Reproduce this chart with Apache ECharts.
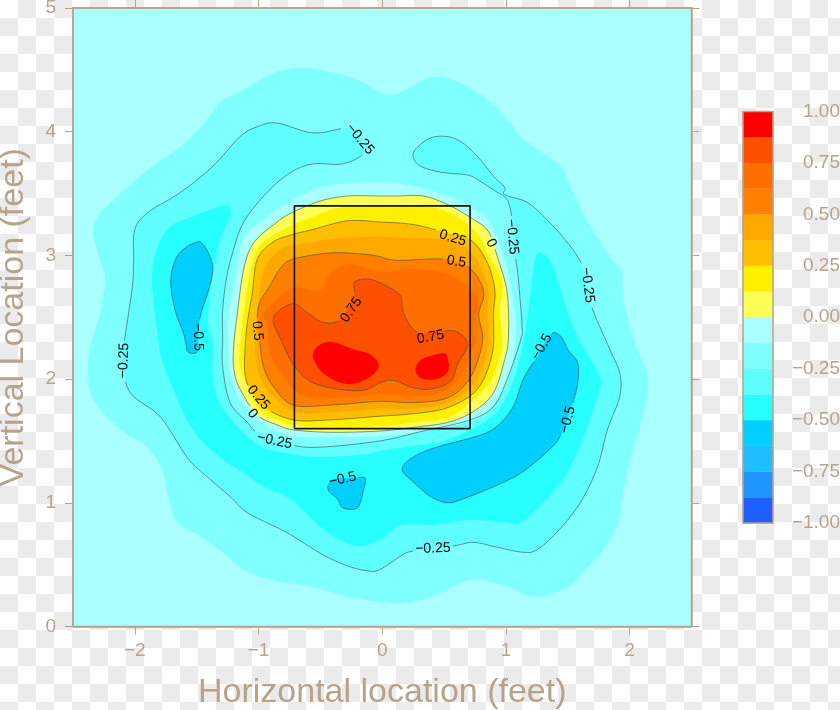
<!DOCTYPE html>
<html><head><meta charset="utf-8">
<script src="https://cdn.jsdelivr.net/npm/echarts@6/dist/echarts.min.js"></script>
<style>
html,body{margin:0;padding:0;width:840px;height:710px;overflow:hidden;background-color:#fff;
background-image:conic-gradient(#ebebeb 25%,#fff 0 50%,#ebebeb 0 75%,#fff 0);background-size:36px 36px;}
#c{width:840px;height:710px;}
</style></head><body><div id="c"></div>
<script>
const xTicks=[-2,-1,0,1,2];
const yTicks=[0,1,2,3,4,5];
const xTitle='Horizontal location (feet)';
const yTitle='Vertical Location (feet)';
const colorBreaks=[-1,-0.875,-0.75,-0.625,-0.5,-0.375,-0.25,-0.125,0,0.125,0.25,0.375,0.5,0.625,0.75,0.875,1];
const colorSteps=['#1f5fff','#1f96ff','#1fbfff','#00cfff','#27ffff','#5fffff','#7fffff','#aaffff','#ffff55','#fff000','#ffbf00','#ffa800','#ff8000','#ff6f00','#ff5000','#ff0000'];
const zoneX=[-0.71,0.71,0.71,-0.71,-0.71];
const zoneY=[1.6,1.6,3.4,3.4,1.6];

const ringM125=[[-.74,4.51],[-.93,4.45],[-1.15,4.32],[-1.31,4.24],[-1.43,4.08],[-1.63,3.88],[-1.90,3.69],[-2.17,3.45],[-2.30,3.31],[-2.34,3.19],[-2.30,3.02],[-2.24,2.81],[-2.28,2.54],[-2.36,2.26],[-2.38,2.08],[-2.36,1.89],[-2.26,1.73],[-2.09,1.57],[-1.90,1.45],[-1.78,1.27],[-1.73,1.05],[-1.66,.85],[-1.47,.73],[-1.29,.60],[-1.09,.44],[-.82,.36],[-.56,.32],[-.28,.24],[-.02,.20],[.20,.19],[.47,.27],[.65,.36],[.79,.38],[1.01,.32],[1.25,.24],[1.50,.32],[1.62,.44],[1.79,.62],[1.92,.86],[1.94,1.03],[1.99,1.29],[2.06,1.54],[2.14,1.86],[2.14,2.05],[2.06,2.24],[1.95,2.64],[1.94,2.86],[1.84,2.99],[1.66,3.27],[1.52,3.56],[1.44,3.72],[1.25,3.86],[1.12,3.96],[1.01,4.10],[.82,4.28],[.57,4.42],[.39,4.44],[.23,4.36],[.09,4.30],[-.02,4.32],[-.20,4.42],[-.50,4.50]];
const ringM25=[[-.15,3.83],[-.32,3.74],[-.56,3.74],[-.74,3.67],[-.93,3.51],[-1.12,3.27],[-1.21,3.02],[-1.26,2.81],[-1.29,2.56],[-1.29,2.32],[-1.29,2.10],[-1.23,1.81],[-1.09,1.65],[-1.01,1.57],[-.74,1.47],[-.50,1.45],[-.02,1.50],[.33,1.58],[.71,1.67],[.90,1.78],[1.01,2.00],[1.12,2.32],[1.13,2.43],[1.10,2.81],[1.08,2.97],[1.05,3.29],[1.02,3.43],[.98,3.48],[.93,3.51],[.79,3.60],[.69,3.65],[.49,3.67],[.31,3.72],[.25,3.80],[.28,3.87],[.39,3.95],[.53,3.96],[.65,3.91],[.77,3.80],[.90,3.64],[.99,3.55],[.99,3.49],[1.17,3.43],[1.33,3.29],[1.50,3.10],[1.62,2.91],[1.68,2.62],[1.84,2.24],[1.92,2.05],[1.92,1.86],[1.82,1.59],[1.74,1.29],[1.60,1.00],[1.41,.76],[1.25,.62],[1.14,.60],[.93,.64],[.74,.68],[.57,.65],[.25,.61],[.15,.57],[-.02,.46],[-.12,.45],[-.28,.49],[-.48,.58],[-.72,.73],[-.85,.80],[-1.09,.92],[-1.23,1.05],[-1.45,1.24],[-1.58,1.37],[-1.79,1.69],[-2.01,1.86],[-2.08,2.00],[-2.09,2.24],[-2.08,2.34],[-2.02,2.75],[-2.01,2.97],[-2.00,3.21],[-1.89,3.35],[-1.63,3.51],[-1.37,3.72],[-1.15,3.96],[-1.01,4.04],[-.85,4.07],[-.56,3.99],[-.28,4.03],[-.20,3.98]];
const ringM375=[[-1.23,3.37],[-1.23,3.31],[-1.31,3.13],[-1.37,2.83],[-1.41,2.48],[-1.37,2.28],[-1.37,2.05],[-1.33,1.84],[-1.20,1.65],[-.99,1.46],[-.72,1.39],[-.48,1.37],[-.15,1.39],[-.02,1.42],[.25,1.46],[.53,1.51],[.85,1.67],[.98,1.81],[1.08,2.05],[1.14,2.30],[1.17,2.48],[1.20,2.70],[1.24,2.99],[1.30,3.01],[1.38,2.91],[1.50,2.54],[1.60,2.30],[1.76,2.02],[1.74,1.86],[1.60,1.46],[1.44,1.16],[1.14,.85],[1.01,.84],[.71,.86],[.39,.82],[.15,.82],[-.02,.70],[-.20,.65],[-.40,.73],[-.56,.86],[-.74,1.03],[-.96,1.13],[-1.12,1.24],[-1.29,1.35],[-1.45,1.49],[-1.58,1.67],[-1.71,1.97],[-1.79,2.18],[-1.81,2.32],[-1.86,2.75],[-1.84,2.99],[-1.74,3.21],[-1.55,3.31],[-1.33,3.39],[-1.25,3.40]];
const blobLeftM5=[[-1.49,3.11],[-1.58,3.07],[-1.67,2.97],[-1.71,2.78],[-1.67,2.54],[-1.61,2.38],[-1.59,2.30],[-1.57,2.22],[-1.51,2.21],[-1.48,2.24],[-1.49,2.32],[-1.47,2.51],[-1.41,2.70],[-1.37,2.89],[-1.41,3.03],[-1.46,3.10]];
const blobBottomM5=[[-.44,1.13],[-.40,1.19],[-.24,1.20],[-.14,1.20],[-.15,1.11],[-.20,.96],[-.32,.96],[-.36,1.03],[-.42,1.08]];
const blobRightM5=[[.16,1.27],[.25,1.37],[.44,1.45],[.77,1.54],[.93,1.62],[1.06,1.78],[1.14,2.00],[1.25,2.18],[1.36,2.36],[1.44,2.35],[1.50,2.24],[1.58,2.13],[1.58,1.97],[1.54,1.81],[1.44,1.54],[1.33,1.41],[1.12,1.24],[.90,1.13],[.65,1.03],[.53,1.00],[.39,1.05],[.25,1.17]];
const holeM125=[[-.02,3.59],[-.40,3.57],[-.58,3.52],[-.72,3.45],[-.93,3.31],[-1.12,3.15],[-1.17,2.91],[-1.24,2.56],[-1.25,2.28],[-1.24,2.08],[-1.17,1.86],[-1.01,1.67],[-.77,1.55],[-.42,1.53],[-.02,1.54],[.39,1.59],[.74,1.67],[.91,1.81],[1.02,2.02],[1.08,2.32],[1.05,2.72],[.98,2.99],[.87,3.27],[.71,3.39],[.53,3.48],[.25,3.56]];
const ring0=[[-.02,3.48],[-.28,3.48],[-.50,3.44],[-.72,3.35],[-.85,3.27],[-1.04,3.10],[-1.12,2.89],[-1.17,2.54],[-1.20,2.28],[-1.20,2.08],[-1.15,1.92],[-1.01,1.71],[-.85,1.63],[-.72,1.59],[-.42,1.57],[-.02,1.58],[.25,1.61],[.53,1.65],[.74,1.74],[.90,1.89],[.99,2.16],[1.02,2.34],[1.01,2.70],[.93,2.99],[.86,3.19],[.74,3.29],[.53,3.41],[.33,3.48],[.12,3.48]];
const ringP125=[[-.02,3.40],[-.34,3.39],[-.56,3.31],[-.72,3.25],[-.93,3.13],[-1.01,3.05],[-1.07,2.86],[-1.12,2.54],[-1.15,2.24],[-1.15,2.10],[-1.09,1.94],[-.99,1.75],[-.82,1.66],[-.72,1.63],[-.42,1.61],[-.02,1.62],[.25,1.65],[.53,1.69],[.71,1.81],[.87,1.97],[.95,2.18],[.97,2.32],[.95,2.54],[.97,2.78],[.87,2.99],[.74,3.21],[.53,3.35],[.33,3.40]];
const ringP25=[[-.02,3.27],[-.28,3.28],[-.56,3.21],[-.72,3.17],[-.88,3.11],[-1.01,2.97],[-1.05,2.70],[-1.09,2.46],[-1.11,2.24],[-1.11,2.05],[-1.07,1.92],[-.95,1.77],[-.72,1.67],[-.42,1.67],[-.02,1.70],[.25,1.72],[.53,1.77],[.77,1.92],[.89,2.21],[.90,2.54],[.91,2.72],[.85,2.94],[.71,3.13],[.49,3.19],[.25,3.25]];
const ringP375=[[-.02,3.15],[-.34,3.14],[-.66,3.09],[-.82,3.05],[-.95,2.90],[-1.00,2.64],[-1.03,2.30],[-1.00,2.05],[-.91,1.89],[-.72,1.74],[-.42,1.73],[-.02,1.76],[.25,1.76],[.53,1.81],[.74,1.96],[.85,2.24],[.85,2.56],[.86,2.66],[.82,2.85],[.69,3.05],[.47,3.13],[.23,3.14]];
const ringP5=[[-.02,2.99],[.12,2.96],[.49,2.97],[.69,2.91],[.79,2.79],[.82,2.67],[.78,2.52],[.81,2.30],[.71,2.01],[.53,1.85],[.25,1.81],[-.02,1.82],[-.42,1.79],[-.72,1.79],[-.88,1.94],[-.96,2.10],[-.99,2.30],[-1.01,2.48],[-.99,2.62],[-.91,2.75],[-.82,2.90],[-.72,2.97],[-.42,3.02],[-.15,3.01]];
const ringP625=[[-.02,2.87],[.25,2.89],[.49,2.86],[.65,2.78],[.77,2.64],[.73,2.38],[.75,2.30],[.63,2.02],[.47,1.89],[.25,1.86],[-.02,1.88],[-.15,1.86],[-.56,1.85],[-.72,1.92],[-.82,2.05],[-.91,2.21],[-.93,2.40],[-.96,2.52],[-.88,2.62],[-.72,2.74],[-.50,2.72],[-.44,2.83],[-.28,2.93]];
const ringP75=[[-.23,2.75],[-.22,2.79],[-.12,2.81],[-.02,2.78],[.06,2.74],[.15,2.67],[.17,2.54],[.28,2.38],[.49,2.39],[.61,2.38],[.69,2.28],[.61,2.12],[.55,1.98],[.39,1.92],[.25,1.93],[.09,1.99],[-.02,1.97],[-.15,1.91],[-.36,1.92],[-.58,1.98],[-.72,2.12],[-.82,2.32],[-.88,2.46],[-.85,2.54],[-.72,2.61],[-.61,2.54],[-.48,2.46],[-.34,2.48],[-.23,2.67]];
const blobA875=[[-.56,2.21],[-.50,2.28],[-.40,2.30],[-.23,2.24],[-.10,2.20],[-.03,2.12],[-.07,2.04],[-.20,1.97],[-.34,1.97],[-.48,2.05],[-.54,2.13]];
const blobB875=[[.27,2.09],[.32,2.16],[.49,2.21],[.53,2.16],[.53,2.06],[.44,2.00],[.33,2.00],[.28,2.04]];

const fillRings=[ringM125,ringM25,ringM375,blobLeftM5,blobBottomM5,blobRightM5,holeM125,ring0,ringP125,ringP25,ringP375,ringP5,ringP625,ringP75,blobA875,blobB875];
const fillColors=['#7fffff','#5fffff','#27ffff','#00cfff','#00cfff','#00cfff','#aaffff','#ffff55','#fff000','#ffbf00','#ffa800','#ff8000','#ff6f00','#ff5000','#ff0000','#ff0000'];
const lineRings=[ringM25,blobLeftM5,blobBottomM5,blobRightM5,ring0,ringP25,ringP5,ringP75];

const labelText=['\u22120.25','\u22120.25','\u22120.25','0','0.25','0.5','0.75','0.75','0.5','\u22120.5','\u22120.25','0.25','0','\u22120.25','\u22120.5','\u22120.25','\u22120.5','\u22120.5'];
const labelX=[-.18,1.05,1.66,.88,.57,.60,.39,-.25,-1.01,-1.49,-2.09,-1.00,-1.05,-.87,-.32,.41,1.29,1.50];
const labelY=[3.94,3.15,2.76,3.10,3.14,2.95,2.34,2.56,2.39,2.34,2.15,1.85,1.72,1.50,1.19,.63,2.26,1.67];
const labelAngle=[-50,-85,-83,-65,-17,-8,10,55,-85,-88,88,-50,-50,-12,12,2,60,75];

const tan='#b7a38b';
const font='"Liberation Sans",Arial,sans-serif';
const labelSize=14;
const minusFmt=v=>String(v).replace('-','\u2212');

function smoothClosed(P,n){
  const out=[],N=P.length;
  for(let i=0;i<N;i++){
    const a=P[(i-1+N)%N],b=P[i],c=P[(i+1)%N],d=P[(i+2)%N];
    for(let k=0;k<n;k++){
      const t=k/n,t2=t*t,t3=t2*t;
      out.push([0,1].map(j=>0.5*(2*b[j]+(c[j]-a[j])*t+(2*a[j]-5*b[j]+4*c[j]-d[j])*t2+(3*b[j]-a[j]-3*c[j]+d[j])*t3)));
    }
  }
  return out;
}
function inLabel(p,boxes){
  return boxes.some(b=>{
    const dx=p[0]-b.x,dy=p[1]-b.y,u=dx*b.c+dy*b.s,v=-dx*b.s+dy*b.c;
    return Math.abs(u)<b.w&&Math.abs(v)<7;
  });
}
const charW=t=>{let w=0;for(const ch of t)w+=(ch==='.'?.278:ch==='\u2212'?.584:.556);return w*labelSize/2+1.5;};

const option={
  animation:false,
  backgroundColor:'transparent',
  textStyle:{fontFamily:font},
  grid:[
    {left:73,top:8,width:618.5,height:618.5,show:true,backgroundColor:'#aaffff',borderColor:tan,borderWidth:1.5,outerBoundsMode:'none'},
    {left:743,top:111.5,width:30,height:411.5,show:false,outerBoundsMode:'none'}
  ],
  xAxis:[
    {type:'value',gridIndex:0,min:-2.5,max:2.5,position:'bottom',splitLine:{show:false},
      axisLine:{onZero:false,lineStyle:{color:tan,width:1.5}},
      axisTick:{length:8,lineStyle:{color:tan,width:1},customValues:xTicks},
      axisLabel:{customValues:xTicks,formatter:minusFmt,color:tan,fontSize:19,fontFamily:font,margin:15},
      name:xTitle,nameLocation:'middle',nameGap:49,nameTextStyle:{color:tan,fontSize:34,fontFamily:font}},
    {type:'value',gridIndex:0,min:-2.5,max:2.5,position:'top',splitLine:{show:false},
      axisLine:{onZero:false,lineStyle:{color:tan,width:1.5}},
      axisTick:{length:8,lineStyle:{color:tan,width:1},customValues:xTicks},
      axisLabel:{show:false}},
    {type:'value',gridIndex:1,min:0,max:1,show:false}
  ],
  yAxis:[
    {type:'value',gridIndex:0,min:0,max:5,interval:1,position:'left',splitLine:{show:false},
      axisLine:{onZero:false,lineStyle:{color:tan,width:1.5}},
      axisTick:{length:8,lineStyle:{color:tan,width:1},customValues:yTicks},
      axisLabel:{customValues:yTicks,color:tan,fontSize:19,fontFamily:font,margin:17,padding:[8,0,0,0]},
      name:yTitle,nameLocation:'middle',nameGap:42,nameTextStyle:{color:tan,fontSize:34,fontFamily:font}},
    {type:'value',gridIndex:0,min:0,max:5,interval:1,position:'right',splitLine:{show:false},
      axisLine:{onZero:false,lineStyle:{color:tan,width:1.5}},
      axisTick:{length:8,lineStyle:{color:tan,width:1},customValues:yTicks},
      axisLabel:{show:false}},
    {type:'value',gridIndex:1,min:-1,max:1,interval:0.25,position:'right',splitLine:{show:false},
      axisLine:{show:false},
      axisTick:{length:9,lineStyle:{color:tan,width:1}},
      axisLabel:{formatter:v=>minusFmt(v.toFixed(2)),align:'right',margin:67,color:tan,fontSize:19,fontFamily:font,padding:[8,0,0,0]}}
  ],
  series:[
    {type:'custom',name:'bands',coordinateSystem:'cartesian2d',xAxisIndex:0,yAxisIndex:0,silent:true,clip:false,z:2,
      data:fillRings.map((r,i)=>[i]),
      renderItem:(p,api)=>{
        const i=api.value(0);
        const pts=smoothClosed(fillRings[i].map(q=>api.coord(q)),8);
        return {type:'polygon',shape:{points:pts},style:{fill:fillColors[i]}};
      }},
    {type:'custom',name:'contours',coordinateSystem:'cartesian2d',xAxisIndex:0,yAxisIndex:0,silent:true,clip:false,z:3,
      data:lineRings.map((r,i)=>[i]),
      renderItem:(p,api)=>{
        const i=api.value(0);
        const boxes=labelText.map((t,k)=>{
          const c=api.coord([labelX[k],labelY[k]]),a=labelAngle[k]*Math.PI/180;
          return {x:c[0],y:c[1],c:Math.cos(a),s:-Math.sin(a),w:charW(t)};
        });
        const pts=smoothClosed(lineRings[i].map(q=>api.coord(q)),8);
        pts.push(pts[0]);
        const kids=[];let cur=[];
        pts.forEach(q=>{
          if(inLabel(q,boxes)){if(cur.length>1)kids.push(cur);cur=[];}
          else cur.push(q);
        });
        if(cur.length>1)kids.push(cur);
        return {type:'group',children:kids.map(s=>({type:'polyline',shape:{points:s},style:{fill:null,stroke:'#3c4a4a',lineWidth:0.6}}))};
      }},
    {type:'line',name:'zone',xAxisIndex:0,yAxisIndex:0,data:zoneX.map((x,i)=>[x,zoneY[i]]),symbol:'none',silent:true,z:4,
      lineStyle:{color:'#111',width:1.6}},
    {type:'custom',name:'labels',coordinateSystem:'cartesian2d',xAxisIndex:0,yAxisIndex:0,silent:true,clip:false,z:5,
      data:labelText.map((t,i)=>[i]),
      renderItem:(p,api)=>{
        const i=api.value(0),c=api.coord([labelX[i],labelY[i]]);
        return {type:'text',x:c[0],y:c[1],rotation:labelAngle[i]*Math.PI/180,
          style:{text:labelText[i],fontSize:labelSize,fontFamily:font,fill:'#000',align:'center',verticalAlign:'middle'}};
      }},
    {type:'custom',name:'colorbar',coordinateSystem:'cartesian2d',xAxisIndex:2,yAxisIndex:2,silent:true,clip:false,z:2,
      data:colorSteps.map((c,i)=>[i]),
      renderItem:(p,api)=>{
        const i=api.value(0),a=api.coord([0,colorBreaks[i]]),b=api.coord([1,colorBreaks[i+1]]);
        return {type:'rect',shape:{x:a[0],y:b[1],width:b[0]-a[0],height:a[1]-b[1]},style:{fill:colorSteps[i],stroke:colorSteps[i],lineWidth:0.3}};
      }},
    {type:'custom',name:'colorbarFrame',coordinateSystem:'cartesian2d',xAxisIndex:2,yAxisIndex:2,silent:true,clip:false,z:3,
      data:[[0]],
      renderItem:(p,api)=>{
        const a=api.coord([0,-1]),b=api.coord([1,1]);
        return {type:'rect',shape:{x:a[0],y:b[1],width:b[0]-a[0],height:a[1]-b[1]},style:{fill:null,stroke:tan,lineWidth:1.5}};
      }}
  ]
};
echarts.init(document.getElementById('c'),null,{renderer:'canvas'}).setOption(option);
</script></body></html>
